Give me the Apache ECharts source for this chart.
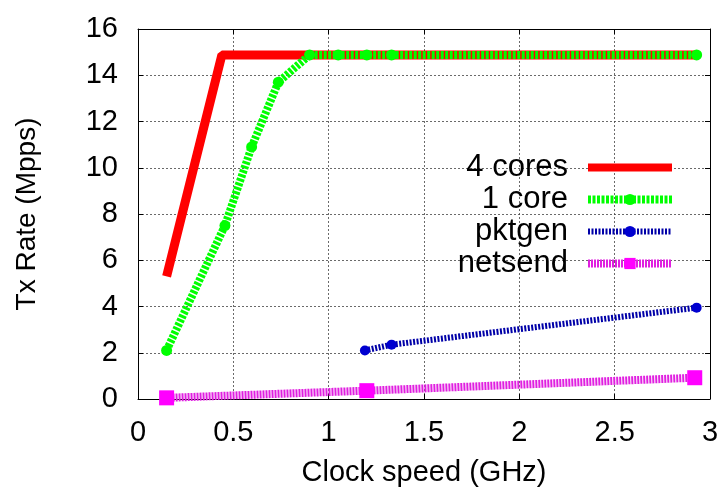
<!DOCTYPE html>
<html>
<head>
<meta charset="utf-8">
<script src="https://cdn.jsdelivr.net/npm/echarts@6/dist/echarts.min.js"></script>
<style>
  html, body { margin: 0; padding: 0; background: #fff; }
  #main { width: 724px; height: 495px; }
</style>
</head>
<body>
<div id="main"></div>
<script>
// clock speed (GHz) and Tx rate (Mpps)
const coresX = [0.15, 0.44, 2.93];
const coresY = [5.3, 14.88, 14.88];
const oneCoreX = [0.15, 0.456, 0.596, 0.736, 0.9, 1.05, 1.2, 1.33, 2.93];
const oneCoreY = [2.1, 7.5, 10.9, 13.7, 14.88, 14.88, 14.88, 14.88, 14.88];
const pktgenX = [1.19, 1.33, 2.93];
const pktgenY = [2.1, 2.35, 3.95];
const netsendX = [0.15, 1.2, 2.92];
const netsendY = [0.05, 0.36, 0.92];
const names = ["4 cores", "1 core", "pktgen", "netsend"];

const pairs = (xs, ys) => xs.map((x, i) => [x, ys[i]]);
const font = "Liberation Sans";

const myChart = echarts.init(document.getElementById("main"), null, {
  width: 724,
  height: 495,
});

const gridLine = { show: true, lineStyle: { color: "#444", width: 0.8, type: [2, 2] } };
const axisLine = { show: true, onZero: false, lineStyle: { color: "#000", width: 1 } };
const tick = { show: true, inside: true, length: 5, lineStyle: { color: "#000" } };

const option = {
  animation: false,
  textStyle: { fontFamily: font },
  grid: { left: 138, right: 14, top: 29, bottom: 96 },
  legend: {
    data: [
      // no marker on the red line
      { name: names[0], itemStyle: { opacity: 0 }, lineStyle: { width: 8 } },
      { name: names[1], lineStyle: { width: 8 } },
      { name: names[2], lineStyle: { width: 6 } },
      { name: names[3], lineStyle: { width: 8 } },
    ],
    orient: "vertical",
    align: "right",
    right: 48,
    top: 152,
    padding: 0,
    itemWidth: 84,
    itemHeight: 14,
    itemGap: 1,
    textStyle: {
      fontFamily: font,
      fontSize: 31,
      color: "#000",
      lineHeight: 31,
      padding: [0, 15, 0, 0],
    },
  },
  xAxis: [
    {
      type: "value",
      min: 0,
      max: 3,
      interval: 0.5,
      name: "Clock speed (GHz)",
      nameLocation: "middle",
      nameGap: 59,
      nameTextStyle: { fontSize: 29, color: "#000", fontFamily: font },
      axisLine: axisLine,
      axisTick: tick,
      axisLabel: { fontSize: 29, color: "#000", margin: 19, fontFamily: font },
      splitLine: gridLine,
    },
    {
      type: "value",
      position: "top",
      min: 0,
      max: 3,
      interval: 0.5,
      axisLine: axisLine,
      axisTick: tick,
      axisLabel: { show: false },
      splitLine: { show: false },
    },
  ],
  yAxis: [
    {
      type: "value",
      min: 0,
      max: 16,
      interval: 2,
      name: "Tx Rate (Mpps)",
      nameLocation: "middle",
      nameGap: 97,
      nameTextStyle: { fontSize: 28, color: "#000", fontFamily: font },
      axisLine: axisLine,
      axisTick: tick,
      axisLabel: { fontSize: 29, color: "#000", margin: 20, fontFamily: font },
      splitLine: gridLine,
    },
    {
      type: "value",
      position: "right",
      min: 0,
      max: 16,
      interval: 2,
      axisLine: axisLine,
      axisTick: tick,
      axisLabel: { show: false },
      splitLine: { show: false },
    },
  ],
  series: [
    {
      name: names[0],
      type: "line",
      data: pairs(coresX, coresY),
      symbol: "none",
      lineStyle: { color: "#ff0000", width: 9 },
      itemStyle: { color: "#ff0000" },
    },
    {
      name: names[1],
      type: "line",
      data: pairs(oneCoreX, oneCoreY),
      symbol: "circle",
      symbolSize: 11,
      lineStyle: { color: "#00ff00", width: 8, type: [3, 1.5] },
      itemStyle: { color: "#00ff00" },
    },
    {
      name: names[2],
      type: "line",
      data: pairs(pktgenX, pktgenY),
      symbol: "circle",
      symbolSize: 10,
      lineStyle: { color: "#0000a8", width: 6, type: [2, 1.5] },
      itemStyle: { color: "#0000d0" },
    },
    {
      name: names[3],
      type: "line",
      data: pairs(netsendX, netsendY),
      symbol: "rect",
      symbolSize: 15,
      lineStyle: { color: "#e020e0", width: 8, type: [2, 1] },
      itemStyle: { color: "#ff00ff" },
    },
  ],
};

myChart.setOption(option);
</script>
</body>
</html>
